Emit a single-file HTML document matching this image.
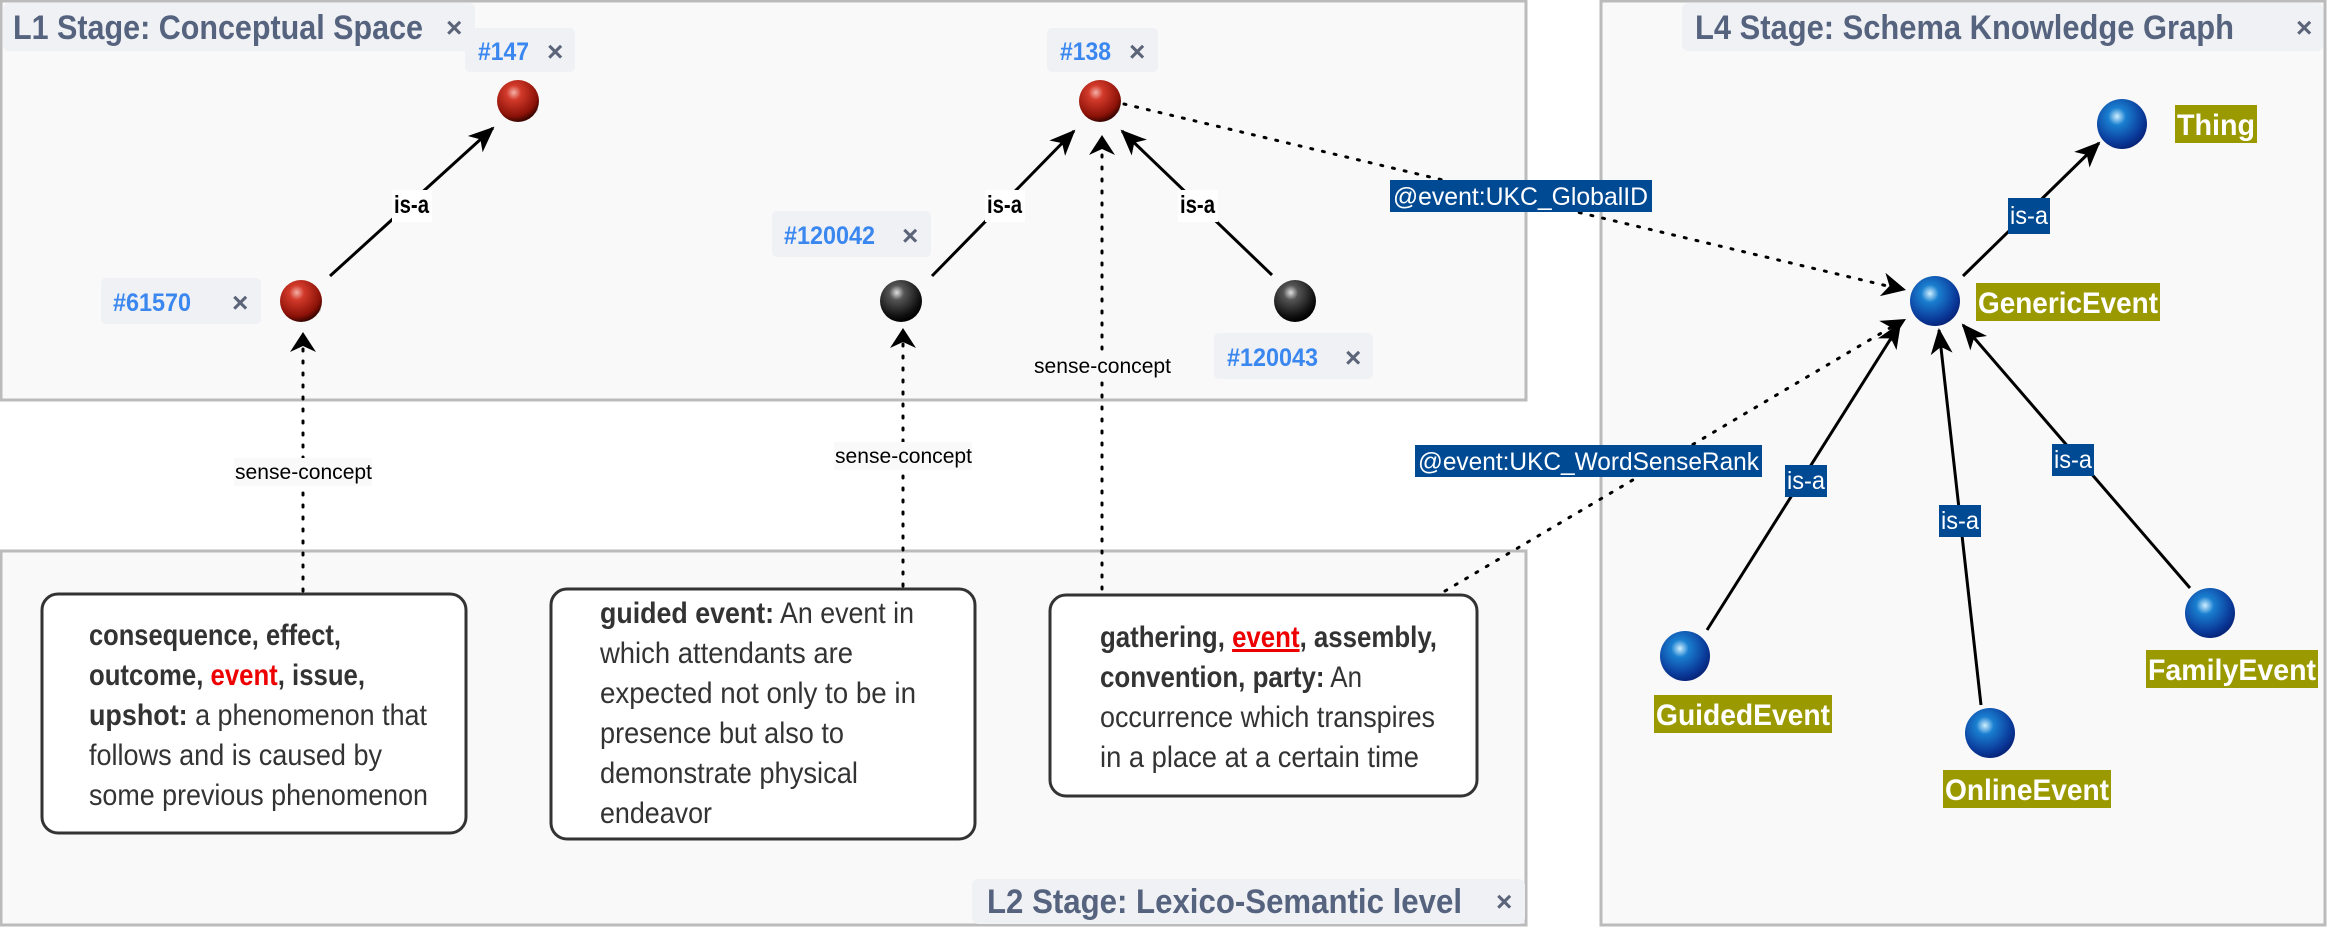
<!DOCTYPE html>
<html><head><meta charset="utf-8"><style>
html,body{margin:0;padding:0;background:#fff;}
svg{display:block;}
.ttl{font-family:"Liberation Sans Narrow","Liberation Sans",sans-serif;font-weight:bold;font-size:34px;fill:#56637e;}
.tab{font-family:"Liberation Sans Narrow","Liberation Sans",sans-serif;font-weight:bold;font-size:25px;fill:#3b87f0;}
.x{font-family:"Liberation Sans",sans-serif;font-weight:bold;font-size:28px;fill:#5b6478;}
.isa{font-family:"Liberation Sans Narrow","Liberation Sans",sans-serif;font-weight:bold;font-size:25px;fill:#000;}
.sc{font-family:"Liberation Sans Narrow","Liberation Sans",sans-serif;font-size:21px;fill:#000;}
.bx{font-family:"Liberation Sans Narrow","Liberation Sans",sans-serif;font-size:30px;fill:#333;}
.b{font-weight:bold;}
.ol{font-family:"Liberation Sans Narrow","Liberation Sans",sans-serif;font-weight:bold;font-size:30px;fill:#fff;}
.bl{font-family:"Liberation Sans",sans-serif;font-size:25px;fill:#fff;}
</style></head><body>
<svg width="2328" height="928" viewBox="0 0 2328 928" xmlns="http://www.w3.org/2000/svg">
<defs>
<radialGradient id="red" cx="40%" cy="30%" r="70%">
<stop offset="0" stop-color="#f4b0a8"/><stop offset="0.25" stop-color="#d23a2a"/><stop offset="0.8" stop-color="#8c1208"/><stop offset="1" stop-color="#3a0500"/></radialGradient>
<radialGradient id="blk" cx="40%" cy="30%" r="70%">
<stop offset="0" stop-color="#e0e0e0"/><stop offset="0.25" stop-color="#555"/><stop offset="0.8" stop-color="#111"/><stop offset="1" stop-color="#000"/></radialGradient>
<radialGradient id="blu" cx="40%" cy="35%" r="70%">
<stop offset="0" stop-color="#cfefff"/><stop offset="0.25" stop-color="#1a7fd0"/><stop offset="0.75" stop-color="#0a3a9a"/><stop offset="1" stop-color="#061f70"/></radialGradient>
<marker id="ah2" markerWidth="26" markerHeight="26" refX="24" refY="13" orient="auto" markerUnits="userSpaceOnUse" viewBox="0 0 26 26">
<path d="M0,2 L26,13 L0,24 L7,13 z" fill="#000"/></marker>
</defs>

<rect x="1" y="1" width="1525" height="399" fill="#f9f9f9" stroke="#bbb" stroke-width="3"/>
<rect x="1" y="551" width="1525" height="374" fill="#f9f9f9" stroke="#bbb" stroke-width="3"/>
<rect x="1601" y="1" width="724" height="924" fill="#f9f9f9" stroke="#bbb" stroke-width="3"/>

<rect x="3" y="3" width="472" height="48" rx="6" fill="#eff1f5"/>
<text class="ttl" x="13" y="39" textLength="410" lengthAdjust="spacingAndGlyphs">L1 Stage: Conceptual Space</text>
<text class="x" x="446" y="37">×</text>
<rect x="972" y="879" width="553" height="45" rx="6" fill="#eff1f5"/>
<text class="ttl" x="987" y="913" textLength="475" lengthAdjust="spacingAndGlyphs">L2 Stage: Lexico-Semantic level</text>
<text class="x" x="1496" y="911">×</text>
<rect x="1682" y="3" width="641" height="48" rx="6" fill="#eff1f5"/>
<text class="ttl" x="1695" y="39" textLength="539" lengthAdjust="spacingAndGlyphs">L4 Stage: Schema Knowledge Graph</text>
<text class="x" x="2296" y="37">×</text>

<rect x="465" y="28" width="110" height="44" rx="5" fill="#eff1f5"/>
<text class="tab" x="478" y="60" textLength="51" lengthAdjust="spacingAndGlyphs">#147</text><text class="x" x="547" y="61">×</text>
<rect x="101" y="278" width="160" height="46" rx="5" fill="#eff1f5"/>
<text class="tab" x="113" y="311" textLength="78" lengthAdjust="spacingAndGlyphs">#61570</text><text class="x" x="232" y="312">×</text>
<rect x="1047" y="28" width="111" height="44" rx="5" fill="#eff1f5"/>
<text class="tab" x="1060" y="60" textLength="51" lengthAdjust="spacingAndGlyphs">#138</text><text class="x" x="1129" y="61">×</text>
<rect x="772" y="211" width="159" height="46" rx="5" fill="#eff1f5"/>
<text class="tab" x="784" y="244" textLength="91" lengthAdjust="spacingAndGlyphs">#120042</text><text class="x" x="902" y="245">×</text>
<rect x="1214" y="333" width="159" height="46" rx="5" fill="#eff1f5"/>
<text class="tab" x="1227" y="366" textLength="91" lengthAdjust="spacingAndGlyphs">#120043</text><text class="x" x="1345" y="367">×</text>

<line x1="330" y1="276" x2="493" y2="128" stroke="#000" stroke-width="3" marker-end="url(#ah2)"/>
<rect x="392" y="190" width="40" height="32" fill="#fff"/><text class="isa" x="394" y="213" textLength="35" lengthAdjust="spacingAndGlyphs">is-a</text>
<line x1="932" y1="276" x2="1074" y2="131" stroke="#000" stroke-width="3" marker-end="url(#ah2)"/>
<rect x="985" y="190" width="40" height="32" fill="#fff"/><text class="isa" x="987" y="213" textLength="35" lengthAdjust="spacingAndGlyphs">is-a</text>
<line x1="1272" y1="275" x2="1122" y2="131" stroke="#000" stroke-width="3" marker-end="url(#ah2)"/>
<rect x="1178" y="190" width="40" height="32" fill="#fff"/><text class="isa" x="1180" y="213" textLength="35" lengthAdjust="spacingAndGlyphs">is-a</text>

<g stroke="#000" stroke-width="3" stroke-dasharray="2,10" stroke-linecap="round" fill="none">
<line x1="303" y1="591" x2="303" y2="338"/>
<line x1="903" y1="586" x2="903" y2="334"/>
<line x1="1102" y1="601" x2="1102" y2="141"/>
<line x1="1124" y1="104" x2="1900" y2="289"/>
<line x1="1445" y1="591" x2="1900" y2="322"/>
</g>
<path d="M290,352 L303,332 L316,352 L303,346 z" fill="#000"/>
<path d="M890,348 L903,328 L916,348 L903,342 z" fill="#000"/>
<path d="M1089,155 L1102,135 L1115,155 L1102,149 z" fill="#000"/>
<path d="M0,-12 L24,0 L0,12 L7,0 z" fill="#000" transform="translate(1906,290) rotate(13.4) translate(-24,0)"/>
<path d="M0,-12 L24,0 L0,12 L7,0 z" fill="#000" transform="translate(1906,319) rotate(-30.6) translate(-24,0)"/>
<rect x="234" y="458" width="138" height="28" fill="#f9f9f9"/>
<text class="sc" x="235" y="479" textLength="137" lengthAdjust="spacingAndGlyphs">sense-concept</text>
<rect x="834" y="442" width="138" height="28" fill="#f9f9f9"/>
<text class="sc" x="835" y="463" textLength="137" lengthAdjust="spacingAndGlyphs">sense-concept</text>
<rect x="1033" y="352" width="138" height="28" fill="#f9f9f9"/>
<text class="sc" x="1034" y="373" textLength="137" lengthAdjust="spacingAndGlyphs">sense-concept</text>

<rect x="1390" y="180" width="262" height="32" fill="#004a94"/>
<text class="bl" x="1393" y="205" textLength="255" lengthAdjust="spacingAndGlyphs">@event:UKC_GlobalID</text>
<rect x="1415" y="445" width="347" height="32" fill="#004a94"/>
<text class="bl" x="1418" y="470" textLength="341" lengthAdjust="spacingAndGlyphs">@event:UKC_WordSenseRank</text>

<ellipse cx="520" cy="110" rx="18" ry="6" fill="#000" opacity="0.15"/>
<circle cx="518" cy="101" r="21" fill="url(#red)"/>
<ellipse cx="303" cy="310" rx="18" ry="6" fill="#000" opacity="0.15"/>
<circle cx="301" cy="301" r="21" fill="url(#red)"/>
<ellipse cx="1102" cy="110" rx="18" ry="6" fill="#000" opacity="0.15"/>
<circle cx="1100" cy="101" r="21" fill="url(#red)"/>
<circle cx="901" cy="301" r="21" fill="url(#blk)"/>
<circle cx="1295" cy="301" r="21" fill="url(#blk)"/>

<rect x="42" y="594" width="424" height="239" rx="16" fill="#fff" stroke="#333" stroke-width="3"/>
<text class="bx b" x="89" y="645" textLength="252" lengthAdjust="spacingAndGlyphs">consequence, effect,</text>
<text class="bx b" x="89" y="685" textLength="276" lengthAdjust="spacingAndGlyphs">outcome, <tspan fill="#e00">event</tspan>, issue,</text>
<text class="bx" x="89" y="725" textLength="338" lengthAdjust="spacingAndGlyphs"><tspan class="b">upshot:</tspan> a phenomenon that</text>
<text class="bx" x="89" y="765" textLength="293" lengthAdjust="spacingAndGlyphs">follows and is caused by</text>
<text class="bx" x="89" y="805" textLength="339" lengthAdjust="spacingAndGlyphs">some previous phenomenon</text>

<rect x="551" y="589" width="424" height="250" rx="16" fill="#fff" stroke="#333" stroke-width="3"/>
<text class="bx" x="600" y="623" textLength="314" lengthAdjust="spacingAndGlyphs"><tspan class="b">guided event:</tspan> An event in</text>
<text class="bx" x="600" y="663" textLength="253" lengthAdjust="spacingAndGlyphs">which attendants are</text>
<text class="bx" x="600" y="703" textLength="316" lengthAdjust="spacingAndGlyphs">expected not only to be in</text>
<text class="bx" x="600" y="743" textLength="244" lengthAdjust="spacingAndGlyphs">presence but also to</text>
<text class="bx" x="600" y="783" textLength="258" lengthAdjust="spacingAndGlyphs">demonstrate physical</text>
<text class="bx" x="600" y="823" textLength="112" lengthAdjust="spacingAndGlyphs">endeavor</text>

<rect x="1050" y="595" width="427" height="201" rx="16" fill="#fff" stroke="#333" stroke-width="3"/>
<text class="bx b" x="1100" y="647" textLength="337" lengthAdjust="spacingAndGlyphs">gathering, <tspan fill="#e00" text-decoration="underline">event</tspan>, assembly,</text>
<text class="bx" x="1100" y="687" textLength="262" lengthAdjust="spacingAndGlyphs"><tspan class="b">convention, party:</tspan> An</text>
<text class="bx" x="1100" y="727" textLength="335" lengthAdjust="spacingAndGlyphs">occurrence which transpires</text>
<text class="bx" x="1100" y="767" textLength="319" lengthAdjust="spacingAndGlyphs">in a place at a certain time</text>

<line x1="1963" y1="276" x2="2099" y2="143" stroke="#000" stroke-width="3" marker-end="url(#ah2)"/>
<line x1="1707" y1="630" x2="1900" y2="324" stroke="#000" stroke-width="3" marker-end="url(#ah2)"/>
<line x1="1981" y1="705" x2="1939" y2="330" stroke="#000" stroke-width="3" marker-end="url(#ah2)"/>
<line x1="2190" y1="588" x2="1963" y2="325" stroke="#000" stroke-width="3" marker-end="url(#ah2)"/>
<rect x="2008" y="198" width="42" height="36" fill="#004a94"/><text class="bl" x="2010" y="224" textLength="38" lengthAdjust="spacingAndGlyphs">is-a</text>
<rect x="1785" y="465" width="42" height="32" fill="#004a94"/><text class="bl" x="1787" y="489" textLength="38" lengthAdjust="spacingAndGlyphs">is-a</text>
<rect x="1939" y="505" width="42" height="32" fill="#004a94"/><text class="bl" x="1941" y="529" textLength="38" lengthAdjust="spacingAndGlyphs">is-a</text>
<rect x="2052" y="444" width="42" height="32" fill="#004a94"/><text class="bl" x="2054" y="468" textLength="38" lengthAdjust="spacingAndGlyphs">is-a</text>

<circle cx="2122" cy="124" r="25" fill="url(#blu)"/>
<circle cx="1935" cy="301" r="25" fill="url(#blu)"/>
<circle cx="1685" cy="656" r="25" fill="url(#blu)"/>
<circle cx="1990" cy="733" r="25" fill="url(#blu)"/>
<circle cx="2210" cy="613" r="25" fill="url(#blu)"/>

<rect x="2175" y="105" width="82" height="38" fill="#9a9a00"/>
<text class="ol" x="2177" y="135" textLength="78" lengthAdjust="spacingAndGlyphs">Thing</text>
<rect x="1976" y="283" width="184" height="38" fill="#9a9a00"/>
<text class="ol" x="1978" y="313" textLength="180" lengthAdjust="spacingAndGlyphs">GenericEvent</text>
<rect x="1654" y="695" width="178" height="38" fill="#9a9a00"/>
<text class="ol" x="1656" y="725" textLength="174" lengthAdjust="spacingAndGlyphs">GuidedEvent</text>
<rect x="1943" y="770" width="168" height="38" fill="#9a9a00"/>
<text class="ol" x="1945" y="800" textLength="164" lengthAdjust="spacingAndGlyphs">OnlineEvent</text>
<rect x="2146" y="650" width="172" height="38" fill="#9a9a00"/>
<text class="ol" x="2148" y="680" textLength="168" lengthAdjust="spacingAndGlyphs">FamilyEvent</text>
</svg>
</body></html>
